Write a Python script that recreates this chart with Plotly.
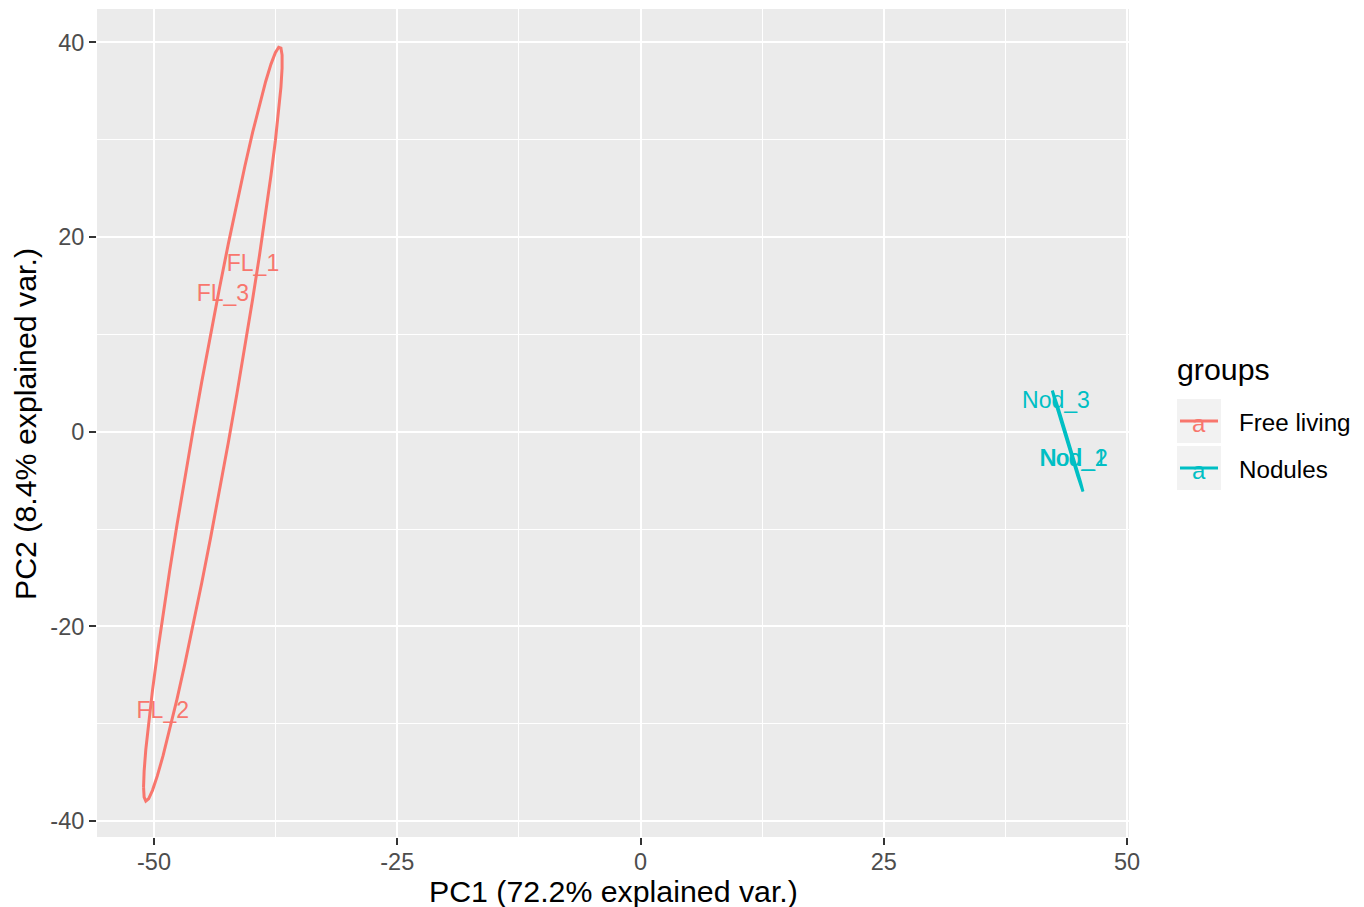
import numpy as np
import plotly.graph_objects as go

# ---- data ----
sample_labels = ["FL_1", "FL_2", "FL_3", "Nod_1", "Nod_2", "Nod_3"]
groups = ["Free living", "Free living", "Free living", "Nodules", "Nodules", "Nodules"]
pc1 = [-39.83, -49.10, -42.92, 44.45, 44.55, 42.69]
pc2 = [17.12, -28.79, 14.04, -2.92, -2.97, 3.01]

group_names = ["Free living", "Nodules"]
group_colors = ["#F8766D", "#00BFC4"]

x_ticks = [-50, -25, 0, 25, 50]
y_ticks = [-40, -20, 0, 20, 40]
x_minor = [-37.5, -12.5, 12.5, 37.5]
y_minor = [-30, -10, 10, 30]
x_title = "PC1 (72.2% explained var.)"
y_title = "PC2 (8.4% explained var.)"
legend_title = "groups"
ellipse_prob = 0.68

FONT = "Liberation Sans, Arial, Helvetica, sans-serif"

# page offset (browser body margin)
OFF = 8
W, H = 1364 - OFF, 907 - OFF
ml, mr, mt, mb = 97 - OFF, 235, 9 - OFF, 70


def page_to_paper(px=None, py=None):
    rx = ry = None
    if px is not None:
        rx = (px - OFF - ml) / (W - ml - mr)
    if py is not None:
        ry = 1 - (py - OFF - mt) / (H - mt - mb)
    return rx, ry


fig = go.Figure()

theta = np.linspace(-np.pi, np.pi, 50)
circle = np.column_stack([np.cos(theta), np.sin(theta)])
ed = np.sqrt(-2.0 * np.log(1.0 - ellipse_prob))  # sqrt(qchisq(p, df=2))

for g, col in zip(group_names, group_colors):
    idx = [i for i, gg in enumerate(groups) if gg == g]
    gx = np.array([pc1[i] for i in idx])
    gy = np.array([pc2[i] for i in idx])
    fig.add_trace(go.Scatter(
        x=gx, y=gy, mode="text", text=[sample_labels[i] for i in idx],
        textposition="middle center",
        textfont=dict(family=FONT, size=23, color=col),
        showlegend=False, hoverinfo="skip"))
    sigma = np.cov(gx, gy)
    R = np.linalg.cholesky(sigma).T
    ell = circle @ R * ed + np.array([gx.mean(), gy.mean()])
    fig.add_trace(go.Scatter(
        x=ell[:, 0], y=ell[:, 1], mode="lines",
        line=dict(color=col, width=3), showlegend=False, hoverinfo="skip"))

# ---- custom ggplot-style legend ----
lx, ly = page_to_paper(1175, 370)
fig.add_annotation(x=lx, y=ly, xref="paper", yref="paper", text=legend_title, showarrow=False,
                   xanchor="left", yanchor="middle", font=dict(family=FONT, size=30.3, color="black"))
key_tops = [399, 446]
for g, col, top in zip(group_names, group_colors, key_tops):
    x0, y0 = page_to_paper(1177, top)
    x1, y1 = page_to_paper(1221, top + 44)
    fig.add_shape(type="rect", xref="paper", yref="paper", x0=x0, x1=x1, y0=y1, y1=y0,
                  fillcolor="#F2F2F2", line=dict(width=0), layer="above")
    sx0, sy = page_to_paper(1180, top + 22)
    sx1, _ = page_to_paper(1218, top + 22)
    fig.add_shape(type="line", xref="paper", yref="paper", x0=sx0, x1=sx1, y0=sy, y1=sy,
                  line=dict(color=col, width=3), layer="above")
    cx, cy = page_to_paper(1199, top + 24)
    fig.add_annotation(x=cx, y=cy, xref="paper", yref="paper", text="a", showarrow=False,
                       xanchor="center", yanchor="middle",
                       font=dict(family=FONT, size=24, color=col))
    tx, ty = page_to_paper(1237, top + 23)
    fig.add_annotation(x=tx, y=ty, xref="paper", yref="paper", text=g, showarrow=False,
                       xanchor="left", yanchor="middle",
                       font=dict(family=FONT, size=24.2, color="black"))

# ---- axis titles ----
ax, ay = page_to_paper(613, 891)
fig.add_annotation(x=ax, y=ay, xref="paper", yref="paper", text=x_title, showarrow=False,
                   xanchor="center", yanchor="middle", font=dict(family=FONT, size=30.3, color="black"))
bx, by = page_to_paper(25, 424)
fig.add_annotation(x=bx, y=by, xref="paper", yref="paper", text=y_title, showarrow=False,
                   textangle=-90, xanchor="center", yanchor="middle",
                   font=dict(family=FONT, size=30.3, color="black"))

axis_common = dict(
    showgrid=True, gridcolor="white", gridwidth=2.2,
    zeroline=False, showline=False,
    ticks="outside", ticklen=7, tickwidth=2.2, tickcolor="#333333",
    tickfont=dict(family=FONT, size=23.5, color="#4D4D4D"),
)

fig.update_layout(
    width=W, height=H,
    margin=dict(l=ml, r=mr, t=mt, b=mb, autoexpand=False),
    plot_bgcolor="#EBEBEB", paper_bgcolor="white",
    showlegend=False,
    xaxis=dict(range=[-55.86, 50.2], tickvals=x_ticks, ticktext=[str(v) for v in x_ticks],
               minor=dict(tickvals=x_minor, showgrid=True, gridcolor="white", gridwidth=1.1, ticks=""),
               ticklabelstandoff=-3, **axis_common),
    yaxis=dict(range=[-41.64, 43.42], tickvals=y_ticks, ticktext=[str(v) for v in y_ticks],
               minor=dict(tickvals=y_minor, showgrid=True, gridcolor="white", gridwidth=1.1, ticks=""),
               **axis_common),
)

fig.write_html("out.html")
